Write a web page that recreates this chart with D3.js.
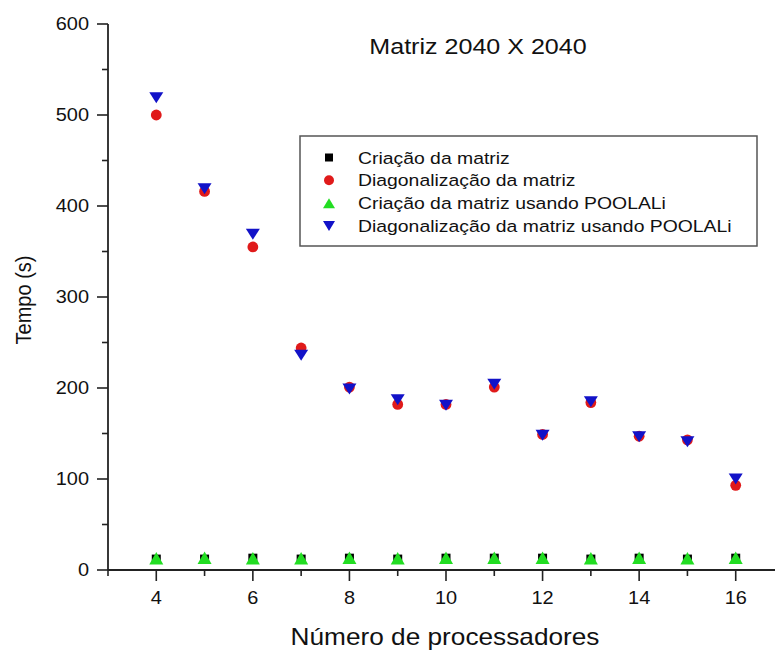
<!DOCTYPE html>
<html>
<head>
<meta charset="utf-8">
<script src="https://cdn.jsdelivr.net/npm/d3@7"></script>
<style>
  html, body { margin: 0; padding: 0; background: #fff; }
  svg { display: block; }
  text { font-family: "Liberation Sans", Arial, sans-serif; fill: #111; }
</style>
</head>
<body>
<svg id="chart" width="775" height="652"></svg>
<script>
// ---- data ----
const processors = [4, 5, 6, 7, 8, 9, 10, 11, 12, 13, 14, 15, 16];
const criacao       = [12, 12, 13, 12, 13, 12, 13, 13, 13, 12, 13, 12, 13];
const diagonalizacao = [500, 416, 355, 244, 201, 182, 182, 201, 149, 184, 147, 143, 93];
const criacaoPool   = [13, 13.5, 13, 13, 13.5, 13, 13.5, 13.5, 13.5, 13, 13.5, 13, 13.5];
const diagPool      = [519, 419, 369, 236, 199, 187, 181, 204, 148, 185, 146.5, 141, 100];
const seriesNames = [
  "Criação da matriz",
  "Diagonalização da matriz",
  "Criação da matriz usando POOLALi",
  "Diagonalização da matriz usando POOLALi"
];
const xTicks = [4, 6, 8, 10, 12, 14, 16];
const yTicks = [0, 100, 200, 300, 400, 500, 600];
const chartTitle = "Matriz 2040 X 2040";
const xTitle = "Número de processadores";
const yTitle = "Tempo (s)";

// ---- layout ----
const SX = 1.14; // horizontal text stretch seen in the reference
const svg = d3.select("#chart");
const x = d3.scaleLinear().domain([3, 17]).range([108, 784]);
const y = d3.scaleLinear().domain([0, 600]).range([570, 24]);

const axisColor = "#222";

// minor ticks
const yMinor = d3.range(50, 600, 100);
const xMinor = d3.range(3, 17, 2);

// Y axis
const gy = svg.append("g").attr("transform", `translate(${x(3)},0)`);
gy.append("line").attr("x1", 0).attr("x2", 0).attr("y1", y(600)).attr("y2", y(0))
  .attr("stroke", axisColor).attr("stroke-width", 1.8);
gy.selectAll(".ymaj").data(yTicks).join("line")
  .attr("x1", -11).attr("x2", 0).attr("y1", d => y(d)).attr("y2", d => y(d))
  .attr("stroke", axisColor).attr("stroke-width", 1.6);
gy.selectAll(".ymin").data(yMinor).join("line")
  .attr("x1", -6).attr("x2", 0).attr("y1", d => y(d)).attr("y2", d => y(d))
  .attr("stroke", axisColor).attr("stroke-width", 1.6);
gy.selectAll(".ylab").data(yTicks).join("text")
  .attr("transform", d => `translate(-19,${y(d)}) scale(${SX},1)`)
  .attr("text-anchor", "end").attr("dy", "0.36em")
  .style("font-size", "17.5px").text(d => d);

// X axis
const gx = svg.append("g").attr("transform", `translate(0,${y(0)})`);
gx.append("line").attr("x1", x(3)).attr("x2", 775).attr("y1", 0).attr("y2", 0)
  .attr("stroke", axisColor).attr("stroke-width", 1.8);
gx.selectAll(".xmaj").data(xTicks).join("line")
  .attr("x1", d => x(d)).attr("x2", d => x(d)).attr("y1", 0).attr("y2", 11)
  .attr("stroke", axisColor).attr("stroke-width", 1.6);
gx.selectAll(".xmin").data(xMinor).join("line")
  .attr("x1", d => x(d)).attr("x2", d => x(d)).attr("y1", 0).attr("y2", 6)
  .attr("stroke", axisColor).attr("stroke-width", 1.6);
gx.selectAll(".xlab").data(xTicks).join("text")
  .attr("transform", d => `translate(${x(d)},34) scale(${SX},1)`)
  .attr("text-anchor", "middle")
  .style("font-size", "17.5px").text(d => d);

// Titles
svg.append("text")
  .attr("transform", `translate(478,54) scale(${SX},1)`)
  .attr("text-anchor", "middle").style("font-size", "22px").text(chartTitle);
svg.append("text")
  .attr("transform", `translate(445,645) scale(${SX},1)`)
  .attr("text-anchor", "middle").style("font-size", "23px").text(xTitle);
svg.append("text")
  .attr("transform", `translate(31,300) scale(${SX},1) rotate(-90)`)
  .attr("text-anchor", "middle").style("font-size", "20px").text(yTitle);

// ---- markers ----
function triPath(w, h, down) {
  const p = d3.path();
  if (down) { p.moveTo(-w/2, -h/2); p.lineTo(w/2, -h/2); p.lineTo(0, h/2); }
  else { p.moveTo(-w/2, h/2); p.lineTo(w/2, h/2); p.lineTo(0, -h/2); }
  p.closePath();
  return p.toString();
}
const colors = ["#000000", "#e01a1a", "#22dd22", "#1212c8"];

const plot = svg.append("g");
// black squares
plot.selectAll(".sq").data(processors).join("rect")
  .attr("x", (d) => x(d) - 4.5).attr("y", (d, i) => y(criacao[i]) - 4.5)
  .attr("width", 9).attr("height", 9).attr("fill", colors[0]);
// green up-triangles
plot.selectAll(".gt").data(processors).join("path")
  .attr("transform", (d, i) => `translate(${x(d)},${y(criacaoPool[i])})`)
  .attr("d", triPath(14, 12.5, false)).attr("fill", colors[2]);
// red circles
plot.selectAll(".rc").data(processors).join("circle")
  .attr("cx", d => x(d)).attr("cy", (d, i) => y(diagonalizacao[i]))
  .attr("r", 5.4).attr("fill", colors[1]);
// blue down-triangles
plot.selectAll(".bt").data(processors).join("path")
  .attr("transform", (d, i) => `translate(${x(d)},${y(diagPool[i])})`)
  .attr("d", triPath(14, 11, true)).attr("fill", colors[3]);

// ---- legend ----
const lg = svg.append("g");
lg.append("rect").attr("x", 300).attr("y", 136).attr("width", 457).attr("height", 110)
  .attr("fill", "#fff").attr("stroke", "#555").attr("stroke-width", 1.5);
const rowY = d3.scaleLinear().domain([0, 3]).range([157.5, 226]);
const lx = 329;
lg.append("rect").attr("x", lx - 4).attr("y", rowY(0) - 4).attr("width", 8).attr("height", 8).attr("fill", colors[0]);
lg.append("circle").attr("cx", lx).attr("cy", rowY(1)).attr("r", 5).attr("fill", colors[1]);
lg.append("path").attr("transform", `translate(${lx},${rowY(2)})`).attr("d", triPath(12, 10, false)).attr("fill", colors[2]);
lg.append("path").attr("transform", `translate(${lx},${rowY(3)})`).attr("d", triPath(12, 10, true)).attr("fill", colors[3]);
lg.selectAll(".lt").data(seriesNames).join("text")
  .attr("transform", (d, i) => `translate(358,${rowY(i)}) scale(${SX},1)`)
  .attr("dy", "0.36em").style("font-size", "17px").text(d => d);
</script>
</body>
</html>
